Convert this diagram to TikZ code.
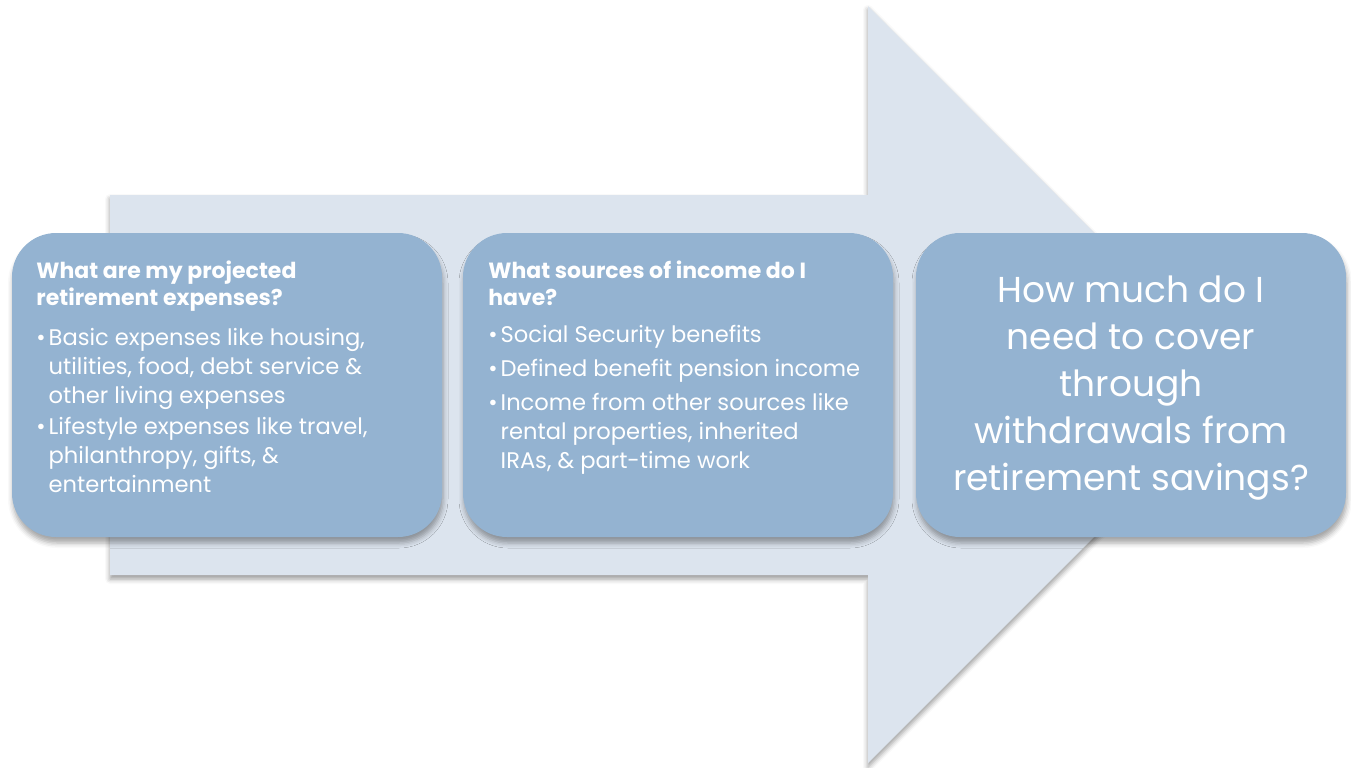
\documentclass[tikz,border=0pt]{standalone}
\usepackage{fontspec}
\setmainfont{Poppins}
\usetikzlibrary{shadows.blur}
\definecolor{arrowfill}{RGB}{220,228,238}
\definecolor{boxfill}{RGB}{148,179,209}

\begin{document}
\begin{tikzpicture}[x = 0.5pt, y = -0.5pt,
	qbox/.style = {rectangle, rounded corners = 22pt, fill = boxfill, minimum width = 215pt, minimum height = 152pt, inner sep = 0pt,
		blur shadow = {shadow xshift = 0.5pt, shadow yshift = -3pt, shadow blur radius = 2.5pt, shadow opacity = 35}},
	qhead/.style = {anchor = base west, inner sep = 0pt, text = white, align = left, font = \bfseries\fontsize{11}{13.5}\selectfont},
	qlist/.style = {anchor = base west, inner sep = 0pt, text = white, align = left, font = \fontsize{11.3}{14.5}\selectfont},
	qbig/.style = {anchor = base, inner sep = 0pt, text = white, align = center, font = \fontsize{18}{23.4}\selectfont}]
	\useasboundingbox (0,0) rectangle (1351,767);
	\fill[arrowfill, blur shadow = {shadow xshift = 0pt, shadow yshift = -2pt, shadow blur radius = 2.5pt, shadow opacity = 40}]
		(110,195) -- (868,195) -- (868,6) -- (1246,385) -- (868,763) -- (868,575) -- (110,575) -- cycle;
	\node[qbox] (expenses) at (227,385) {};
	\node[qbox] (income) at (678,385) {};
	\node[qbox] (gap) at (1131,385) {};
	\node[qhead] (expensesq) at (36,305) {What are my projected\\retirement expenses?};
	\node[qlist] (expensesl) at (36,492) {\textbullet\hspace{1.5pt}Basic expenses like housing,\\
		\hphantom{\textbullet\hspace{1.5pt}}utilities, food, debt service \&\\
		\hphantom{\textbullet\hspace{1.5pt}}other living expenses\\[1pt]
		\textbullet\hspace{1.5pt}Lifestyle expenses like travel,\\
		\hphantom{\textbullet\hspace{1.5pt}}philanthropy, gifts, \&\\
		\hphantom{\textbullet\hspace{1.5pt}}entertainment};
	\node[qhead] (incomeq) at (488,305) {What sources of income do I\\have?};
	\node[qlist] (incomel) at (488,468) {\textbullet\hspace{1.5pt}Social Security benefits\\[2.5pt]
		\textbullet\hspace{1.5pt}Defined benefit pension income\\[2.5pt]
		\textbullet\hspace{1.5pt}Income from other sources like\\
		\hphantom{\textbullet\hspace{1.5pt}}rental properties, inherited\\
		\hphantom{\textbullet\hspace{1.5pt}}IRAs, \& part-time work};
	\node[qbig] (gapq) at (1131,490) {How much do I\\need to cover\\through\\withdrawals from\\retirement savings?};
\end{tikzpicture}
\end{document}
